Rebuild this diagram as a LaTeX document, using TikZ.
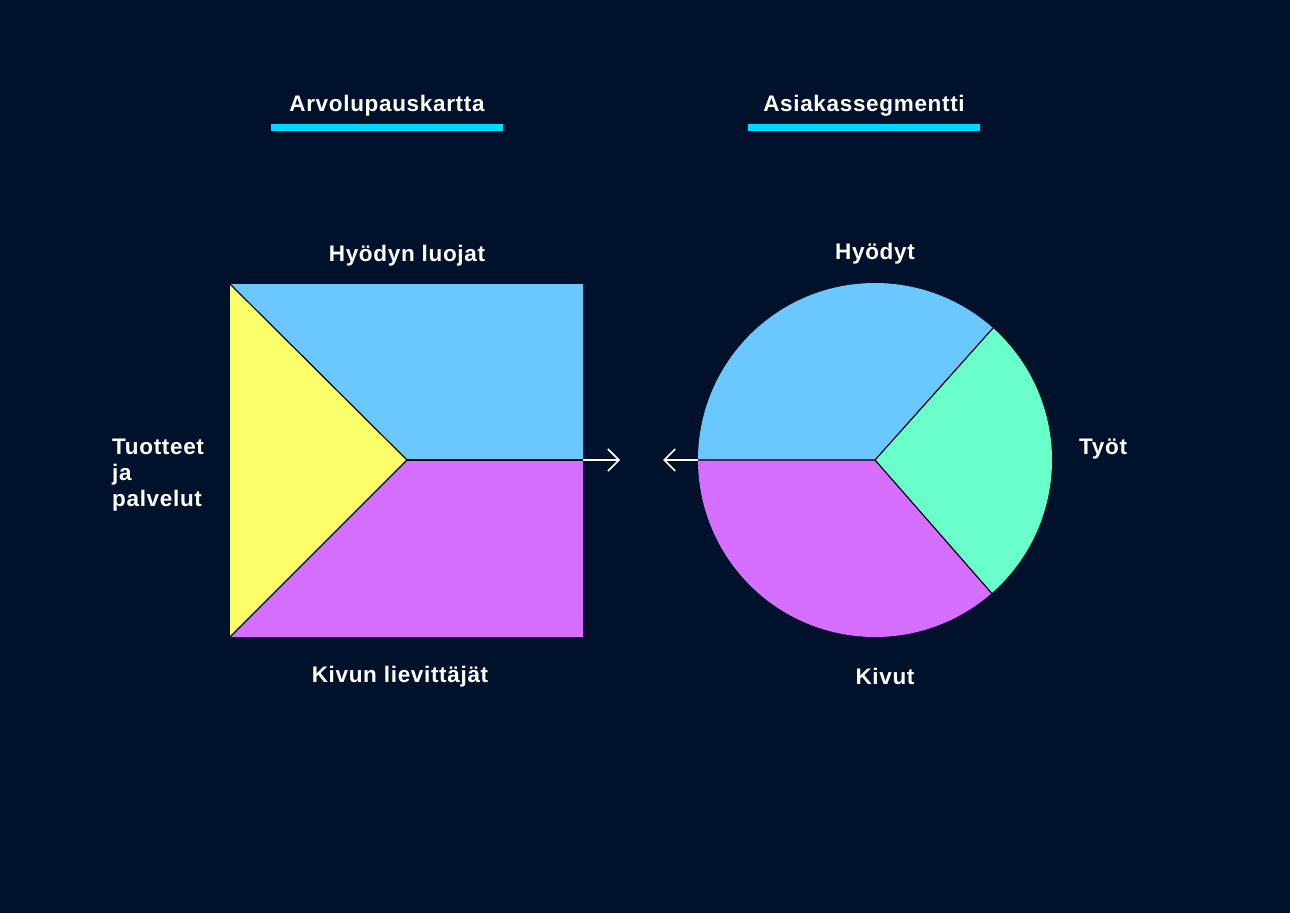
\documentclass[tikz,border=0pt]{standalone}
\usepackage{fontspec}
\setmainfont[LetterSpace=3]{Liberation Sans}
\usetikzlibrary{arrows.meta}
\definecolor{bg}{HTML}{00112B}
\definecolor{cblue}{HTML}{6AC8FF}
\definecolor{cyellow}{HTML}{FAFF6A}
\definecolor{cpurple}{HTML}{D66EFF}
\definecolor{cgreen}{HTML}{6AFFCA}
\definecolor{ccyan}{HTML}{00D8FF}
\tikzset{
  lbl/.style={text=white, font=\fontsize{22.5}{26}\selectfont\bfseries, inner sep=0pt},
  uline/.style={fill=ccyan, draw=none},
  divider/.style={draw=black, line width=1.2pt},
  connector/.style={draw=white, line width=1.6pt, -{Straight Barb[length=11pt,width=22pt,line width=1.6pt]}},
}
\begin{document}
\begin{tikzpicture}[x=1pt,y=-1pt]
\useasboundingbox (0,0) rectangle (1290,913);
\fill[bg] (0,0) rectangle (1290,913);
% titles
\node[lbl] (t1) at (387,106) {Arvolupauskartta};
\node[lbl] (t2) at (864,106) {Asiakassegmentti};
\fill[uline] (271,124) rectangle (503,131);
\fill[uline] (748,124) rectangle (980,131);
% square
\coordinate (sqTL) at (230,284);
\coordinate (sqTR) at (583,284);
\coordinate (sqBL) at (230,637);
\coordinate (sqBR) at (583,637);
\coordinate (sqC) at (407,460);
\coordinate (sqR) at (583,460);
\fill[cyellow] (sqTL) -- (sqC) -- (sqBL) -- cycle;
\fill[cblue] (sqTL) -- (sqTR) -- (sqR) -- (sqC) -- cycle;
\fill[cpurple] (sqBL) -- (sqBR) -- (sqR) -- (sqC) -- cycle;
\draw[divider] (sqTL) -- (sqC) -- (sqBL);
\draw[divider] (sqC) -- (sqR);
% circle
\coordinate (cc) at (875,460);
\def\R{177}
\fill[cblue] (cc) -- ++(-180:\R) arc[start angle=-180, end angle=-48.2, radius=\R] -- cycle;
\fill[cgreen] (cc) -- ++(-48.2:\R) arc[start angle=-48.2, end angle=48.8, radius=\R] -- cycle;
\fill[cpurple] (cc) -- ++(48.8:\R) arc[start angle=48.8, end angle=180, radius=\R] -- cycle;
\coordinate (ccL) at (698,460);
\path (cc) ++(-48.2:\R) coordinate (ccA);
\path (cc) ++(48.8:\R) coordinate (ccB);
\draw[divider] (ccL) -- (cc) -- (ccA);
\draw[divider] (cc) -- (ccB);
% arrows
\coordinate (arR) at (620,460);
\coordinate (arL) at (663,460);
\draw[connector] (sqR) -- (arR);
\draw[connector] (ccL) -- (arL);
% labels
\node[lbl] (hl) at (407,256) {Hyödyn luojat};
\node[lbl] (kl) at (400,677) {Kivun lievittäjät};
\node[lbl, align=left, anchor=west] (tp) at (112,475) {Tuotteet\\ja\\palvelut};
\node[lbl] (hy) at (875,254) {Hyödyt};
\node[lbl, anchor=west] (ty) at (1079,449) {Työt};
\node[lbl] (ki) at (885,676) {Kivut};
\end{tikzpicture}
\end{document}
